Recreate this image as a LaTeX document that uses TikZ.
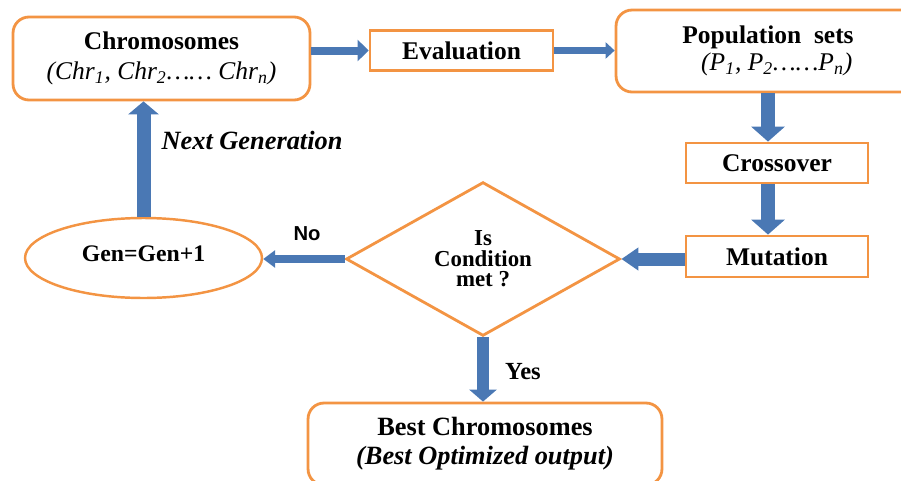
\documentclass[tikz,border=0pt]{standalone}
\usepackage{fontspec}
\setmainfont{Liberation Serif}
\newfontfamily\labelsans{Liberation Sans}
\usetikzlibrary{shapes.geometric,arrows.meta}
\definecolor{boxorange}{HTML}{F39443}
\definecolor{arrowblue}{HTML}{4A78B4}

\begin{document}
\begin{tikzpicture}[x=0.02cm,y=-0.02cm,
  stepbox/.style={draw=boxorange, line width=1.6pt, fill=white, inner sep=0pt,
    align=center, font=\fontsize{14.5}{17}\selectfont\bfseries},
  roundbox/.style={stepbox, rounded corners=0.32cm},
  flow/.style n args={3}{draw=arrowblue, line width=#1, -{Triangle[length=#2,width=#3]}}]

\useasboundingbox (0,0) rectangle (901,480);

% Draw the boxes
\node[roundbox, minimum width=5.94cm, minimum height=1.66cm] (chrom) at (161.5,58.5)
  {Chromosomes\\\mdseries\itshape (Chr\textsubscript{1}, Chr\textsubscript{2}……\ Chr\textsubscript{n})};
\node[stepbox, minimum width=3.66cm, minimum height=0.8cm] (eval) at (461.5,50.5) {Evaluation};
\node[roundbox, minimum width=6.08cm, minimum height=1.64cm] (pop) at (768,51)
  {Population~ sets\\[-2pt]\hspace*{0.35cm}\mdseries\itshape (P\textsubscript{1}, P\textsubscript{2}……P\textsubscript{n})};
\node[stepbox, minimum width=3.64cm, minimum height=0.8cm] (crossover) at (777,163) {Crossover};
\node[stepbox, minimum width=3.64cm, minimum height=0.82cm] (mutation) at (777,256.5) {Mutation};

% Draw the decision and the counter
\node[diamond, draw=boxorange, line width=1.6pt, minimum width=5.48cm, minimum height=3.04cm,
  inner sep=0pt, align=center, font=\fontsize{13}{11.6}\selectfont\bfseries] (cond) at (483,259)
  {Is\\Condition\\met ?};
\node[ellipse, draw=boxorange, line width=1.4pt, minimum width=4.74cm, minimum height=1.6cm,
  inner sep=0pt, font=\fontsize{13.5}{16}\selectfont\bfseries] (gen) at (143.5,258)
  {\raisebox{0.16cm}{Gen=Gen+1}};
\node[roundbox, minimum width=7.08cm, minimum height=1.64cm, font=\fontsize{15}{16.5}\selectfont\bfseries]
  (best) at (485,444) {Best Chromosomes\\\itshape (Best Optimized output)};

% Draw the arrows
\draw[flow={0.16cm}{0.22cm}{0.42cm}] (chrom.east |- eval.west) -- (eval.west);
\draw[flow={0.14cm}{0.18cm}{0.32cm}] (eval.east) -- (pop.west |- eval.east);
\draw[flow={0.27cm}{0.3cm}{0.66cm}] (pop.south) -- (pop.south |- crossover.north);
\draw[flow={0.27cm}{0.3cm}{0.66cm}] (crossover.south -| pop.south) -- (pop.south |- mutation.north);
\draw[flow={0.26cm}{0.34cm}{0.44cm}] (mutation.west |- cond.east) -- (cond.east);
\draw[flow={0.16cm}{0.24cm}{0.34cm}] (cond.west) -- (gen.east |- cond.west);
\draw[flow={0.28cm}{0.26cm}{0.6cm}] (gen.north) -- (gen.north |- chrom.south);
\draw[flow={0.25cm}{0.24cm}{0.54cm}] (cond.south) -- (cond.south |- best.north);

% Labels on the arrows
\node[font=\fontsize{15}{18}\selectfont\bfseries\itshape] (nextgen) at (252,140) {Next Generation};
\node[font=\labelsans\fontsize{11.5}{14}\selectfont\bfseries] (nolbl) at (307,234) {No};
\node[font=\fontsize{14}{16}\selectfont\bfseries] (yeslbl) at (523,372) {Yes};

\end{tikzpicture}
\end{document}
